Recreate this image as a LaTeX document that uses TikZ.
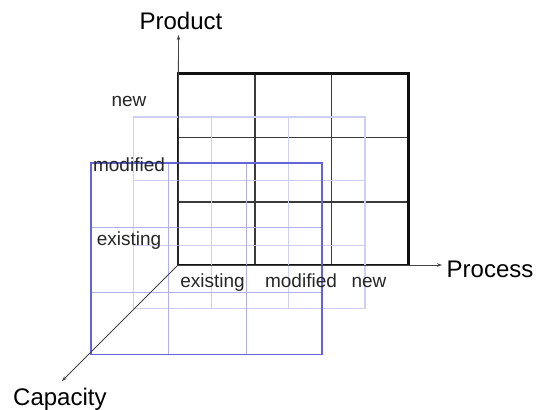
\documentclass[tikz,border=0pt]{standalone}
\usepackage{fontspec}
\setmainfont{Liberation Sans}
\usetikzlibrary{arrows.meta}
\definecolor{backframe}{HTML}{111111}
\definecolor{backline}{HTML}{3A3A3A}
\definecolor{midline}{HTML}{CFCFF4}
\definecolor{frontframe}{HTML}{6464D6}
\definecolor{frontline}{HTML}{B0B0EE}
\definecolor{axisgray}{HTML}{444444}
\tikzset{
  axis/.style={draw=axisgray, line width=0.9pt, -{Stealth[length=5pt,width=3.5pt]}},
  axislabel/.style={font=\fontsize{24}{28}\selectfont, inner sep=0pt, anchor=base},
  levellabel/.style={font=\fontsize{19}{22}\selectfont, inner sep=0pt, anchor=base, text=black!85},
}
\begin{document}
\begin{tikzpicture}[x=1pt, y=-1pt]
  \useasboundingbox (0,0) rectangle (536,410);

  % back layer: existing capacity
  \foreach \x in {255,331.5} \draw[backline, line width=1.1pt] (\x,73.5) -- (\x,265);
  \foreach \y in {137.5,202} \draw[backline, line width=1.1pt] (178,\y) -- (408.5,\y);
  \draw[backframe, line width=2.2pt] (178,73.5) rectangle (408.5,265);

  % middle layer
  \foreach \x in {211,288.5} \draw[midline, line width=1pt] (\x,117) -- (\x,308.5);
  \foreach \y in {180.5,245} \draw[midline, line width=1pt] (133.5,\y) -- (365,\y);
  \draw[midline, line width=1.3pt] (133.5,117) rectangle (365,308.5);

  % front layer
  \foreach \x in {168.5,246} \draw[frontline, line width=1pt] (\x,163) -- (\x,354.5);
  \foreach \y in {227,292} \draw[frontline, line width=1pt] (91,\y) -- (322,\y);
  \draw[frontframe, line width=1.8pt] (91,163) rectangle (322,354.5);

  % axes
  \coordinate (origin) at (178,265);
  \coordinate (prodtip) at (178.5,35);
  \coordinate (proctip) at (442,265);
  \coordinate (captip) at (62,381);
  \draw[axis] (origin) -- (prodtip);
  \draw[axis] (origin) -- (proctip);
  \draw[axis, line width=0.8pt] (origin) -- (captip);

  \node[axislabel] (product) at (181,29) {Product};
  \node[axislabel, anchor=base west] (process) at (446.5,277) {Process};
  \node[axislabel, anchor=base west] (capacity) at (13,405) {Capacity};

  % product levels
  \node[levellabel] (pnew) at (129,106.5) {new};
  \node[levellabel] (pmod) at (129,171.5) {modified};
  \node[levellabel] (pexist) at (129,245.5) {existing};

  % process levels
  \node[levellabel] (qexist) at (212.5,287.5) {existing};
  \node[levellabel] (qmod) at (301,287.5) {modified};
  \node[levellabel] (qnew) at (369,287.5) {new};
\end{tikzpicture}
\end{document}
